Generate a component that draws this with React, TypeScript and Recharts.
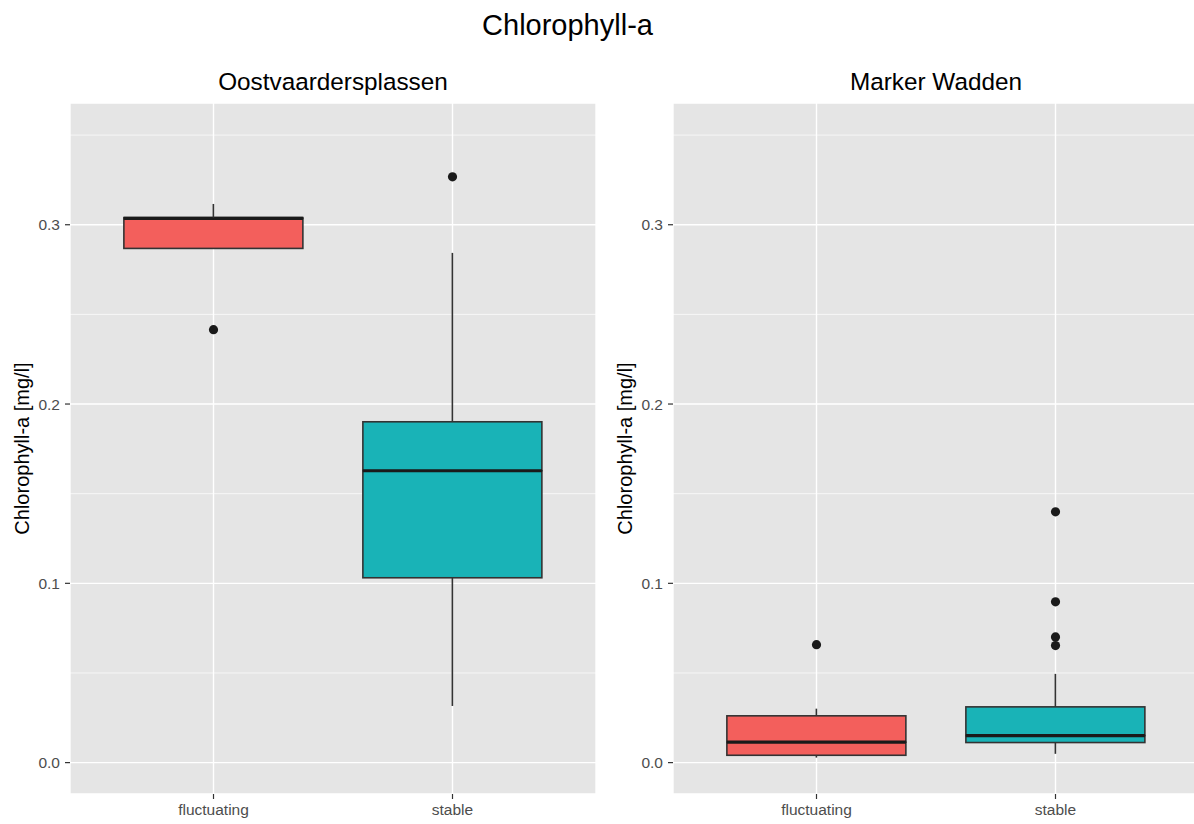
import React from 'react';
import { ComposedChart, Bar, Scatter, XAxis, YAxis, CartesianGrid } from 'recharts';

const groups = ['fluctuating', 'stable'];
const fillColors = ['#F35F5C', '#19B3B7'];

// Oostvaardersplassen box statistics, one entry per group
const ovpLowerWhisker = [0.2868, 0.0316];
const ovpQ1 = [0.2868, 0.1031];
const ovpMedian = [0.3035, 0.1628];
const ovpQ3 = [0.304, 0.1901];
const ovpUpperWhisker = [0.3116, 0.2843];
const ovpOutliers = [[0.2415], [0.3267]];

// Marker Wadden box statistics
const mwLowerWhisker = [0.0028, 0.0049];
const mwQ1 = [0.0041, 0.0112];
const mwMedian = [0.0114, 0.0151];
const mwQ3 = [0.0261, 0.0311];
const mwUpperWhisker = [0.0301, 0.0495];
const mwOutliers = [[0.0658], [0.1399, 0.0897, 0.0701, 0.0653]];

const yTicks = [0, 0.1, 0.2, 0.3];
const yMinorLines = [0.05, 0.15, 0.25, 0.35];
const yDomain = [-0.0175, 0.3679];

const FONT = '"Liberation Sans", Arial, Helvetica, sans-serif';
const LINE = '#333333';
const PANEL_BG = '#E5E5E5';

// stacked segments: invisible base, lower whisker, lower box half, upper box half, upper whisker
const buildRows = (lo: number[], q1: number[], med: number[], q3: number[], hi: number[]) =>
  groups.map((g, i) => ({
    group: g,
    fill: fillColors[i],
    base: lo[i],
    lowerWhisker: q1[i] - lo[i],
    lowerBox: med[i] - q1[i],
    upperBox: q3[i] - med[i],
    upperWhisker: hi[i] - q3[i],
  }));

const buildOutliers = (outliers: number[][]) =>
  groups.flatMap((g, i) => outliers[i].map((v) => ({ group: g, value: v })));

const WhiskerShape = (p: any) => {
  const cx = p.x + p.width / 2;
  return <line x1={cx} x2={cx} y1={p.y} y2={p.y + p.height} stroke={LINE} strokeWidth={1.6} />;
};

const LowerBoxShape = (p: any) => (
  <rect x={p.x} y={p.y} width={p.width} height={p.height} fill={p.payload.fill} stroke={LINE} strokeWidth={1.6} />
);

// upper half also draws the median on its bottom edge so nothing paints over it
const UpperBoxShape = (p: any) => {
  const yMed = p.y + p.height;
  return (
    <g>
      <rect x={p.x} y={p.y} width={p.width} height={p.height} fill={p.payload.fill} stroke={LINE} strokeWidth={1.6} />
      <line x1={p.x} x2={p.x + p.width} y1={yMed} y2={yMed} stroke="#1A1A1A" strokeWidth={3.2} />
    </g>
  );
};

const OutlierDot = (p: any) => <circle cx={p.cx} cy={p.cy} r={4.6} fill="#1A1A1A" />;

const YTitle = ({ viewBox }: any) => {
  const x = viewBox.x + 29.3;
  const y = viewBox.y + viewBox.height / 2;
  return (
    <text x={x} y={y} transform={`rotate(-90 ${x} ${y})`} textAnchor="middle" fontSize={20} fill="#000" fontFamily={FONT}>
      Chlorophyll-a [mg/l]
    </text>
  );
};

interface PanelProps {
  title: string;
  left: number;
  width: number;
  rows: ReturnType<typeof buildRows>;
  outliers: { group: string; value: number }[];
}

const BoxPanel: React.FC<PanelProps> = ({ title, left, width, rows, outliers }) => (
  <div style={{ position: 'absolute', left, top: 0 }}>
    <div
      style={{
        position: 'absolute',
        left: 70,
        width: 526,
        top: 70.1,
        textAlign: 'center',
        fontSize: 24.3,
        lineHeight: '24.3px',
        color: '#000',
        whiteSpace: 'nowrap',
      }}
    >
      {title}
    </div>
    <ComposedChart
      width={width}
      height={824}
      data={rows}
      margin={{ top: 103, right: width - 596, left: 0, bottom: 0 }}
      barCategoryGap="12.5%"
    >
      {/* minor horizontal lines first, then the major grid on top of the panel fill */}
      <CartesianGrid fill={PANEL_BG} stroke="#FFFFFF" strokeWidth={0.7} vertical={false} horizontalValues={yMinorLines} />
      <CartesianGrid fill="none" stroke="#FFFFFF" strokeWidth={1.4} horizontal vertical />
      <XAxis
        dataKey="group"
        type="category"
        allowDuplicatedCategory={false}
        height={30}
        padding={{ left: 24, right: 24 }}
        axisLine={false}
        tickSize={5}
        tickMargin={5}
        tickLine={{ stroke: LINE, strokeWidth: 1.2 }}
        tick={{ fontSize: 15.5, fill: '#4D4D4D', fontFamily: FONT }}
      />
      <YAxis
        type="number"
        width={70}
        domain={yDomain}
        allowDataOverflow
        ticks={yTicks}
        tickFormatter={(v: number) => v.toFixed(1)}
        axisLine={false}
        tickSize={5}
        tickMargin={5}
        tickLine={{ stroke: LINE, strokeWidth: 1.2 }}
        tick={{ fontSize: 15.5, fill: '#4D4D4D', fontFamily: FONT }}
        label={{ content: (p: any) => <YTitle viewBox={p.viewBox} /> }}
      />
      <Bar dataKey="base" stackId="box" fill="none" isAnimationActive={false} shape={() => <g />} />
      <Bar dataKey="lowerWhisker" stackId="box" isAnimationActive={false} shape={WhiskerShape} />
      <Bar dataKey="lowerBox" stackId="box" isAnimationActive={false} shape={LowerBoxShape} />
      <Bar dataKey="upperBox" stackId="box" isAnimationActive={false} shape={UpperBoxShape} />
      <Bar dataKey="upperWhisker" stackId="box" isAnimationActive={false} shape={WhiskerShape} />
      <Scatter data={outliers} dataKey="value" isAnimationActive={false} shape={OutlierDot} />
    </ComposedChart>
  </div>
);

export default function App() {
  const ovpRows = buildRows(ovpLowerWhisker, ovpQ1, ovpMedian, ovpQ3, ovpUpperWhisker);
  const mwRows = buildRows(mwLowerWhisker, mwQ1, mwMedian, mwQ3, mwUpperWhisker);

  return (
    <div
      style={{
        position: 'absolute',
        left: 0,
        top: 0,
        width: 1194,
        height: 824,
        overflow: 'hidden',
        background: '#FFFFFF',
        fontFamily: FONT,
      }}
    >
      <div
        style={{
          position: 'absolute',
          left: 0,
          width: 1135,
          top: 10.5,
          textAlign: 'center',
          fontSize: 29,
          lineHeight: '29px',
          color: '#000',
        }}
      >
        Chlorophyll-a
      </div>
      <BoxPanel title="Oostvaardersplassen" left={0} width={597} rows={ovpRows} outliers={buildOutliers(ovpOutliers)} />
      <BoxPanel title="Marker Wadden" left={603} width={596} rows={mwRows} outliers={buildOutliers(mwOutliers)} />
    </div>
  );
}
